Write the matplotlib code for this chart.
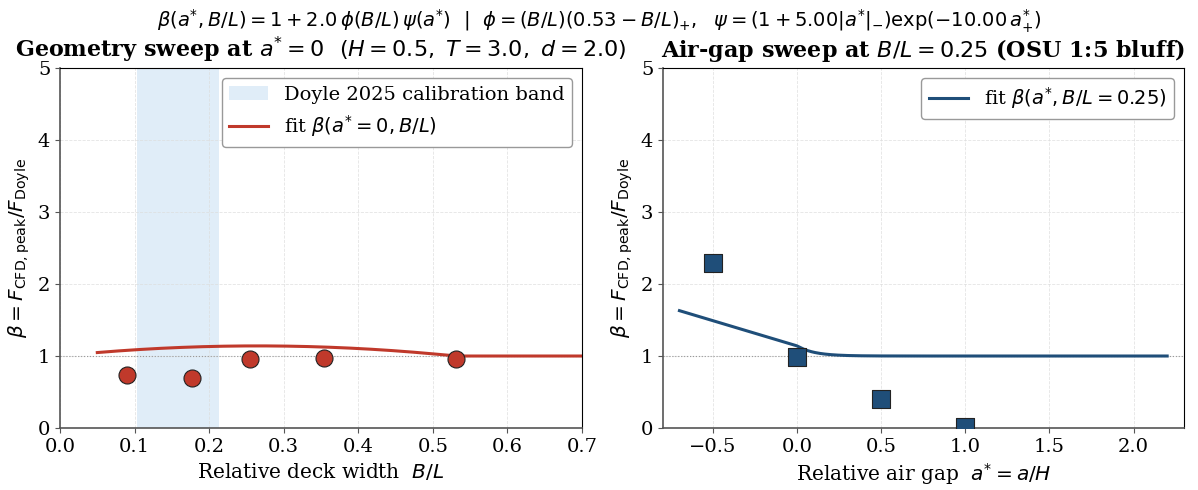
import numpy as np
import matplotlib
matplotlib.use("Agg")
import matplotlib.pyplot as plt

plt.rcParams['font.family'] = ['DejaVu Serif']
plt.rcParams['mathtext.fontset'] = 'dejavusans'

# Fit parameters (stated in the figure title)
fit_amp = 2.0
fit_bl0 = 0.53
fit_k_neg = 5.00
fit_k_pos = 10.00

# Geometry sweep data (a* = 0)
geom_bl = [0.090, 0.177, 0.255, 0.354, 0.531]
geom_beta = [0.74, 0.70, 0.96, 0.97, 0.96]
band_lo, band_hi = 0.103, 0.213

# Air-gap sweep data (B/L = 0.25)
gap_a = [-0.5, 0.0, 0.5, 1.0]
gap_beta = [2.29, 0.99, 0.40, 0.02]
gap_bl = 0.25


def phi(bl):
    return bl * np.clip(fit_bl0 - bl, 0, None)


def psi(a):
    neg = np.clip(-a, 0, None)
    pos = np.clip(a, 0, None)
    return (1 + fit_k_neg * neg) * np.exp(-fit_k_pos * pos)


def beta(a, bl):
    return 1 + fit_amp * phi(bl) * psi(a)


red = '#c0392b'
blue = '#1f4e79'

fig = plt.figure(figsize=(11.98, 4.9), dpi=100)
ax1 = fig.add_axes([0.0501, 0.1265, 0.4357, 0.7347])
ax2 = fig.add_axes([0.5534, 0.1265, 0.4349, 0.7347])

for ax in (ax1, ax2):
    ax.grid(True, color='#dddddd', lw=0.6, ls='--', alpha=0.8)
    ax.set_axisbelow(True)
    ax.axhline(1.0, color='#999999', lw=0.8, ls=':', zorder=1)
    ax.set_ylim(0, 5)
    ax.set_yticks([0, 1, 2, 3, 4, 5])
    ax.tick_params(labelsize=14, color='#555555')
    for s in ('left', 'bottom'):
        ax.spines[s].set_color('#555555')
        ax.spines[s].set_linewidth(1.2)
    ax.set_ylabel(r'$\beta = F_{\mathrm{CFD,peak}}/F_{\mathrm{Doyle}}$', fontsize=14.5)

# Left panel
ax1.axvspan(band_lo, band_hi, color='#d6e8f6', alpha=0.75, lw=0,
            label='Doyle 2025 calibration band', zorder=0)
xb = np.linspace(0.05, 0.7, 300)
ax1.plot(xb, beta(0.0, xb), color=red, lw=2.2, label=r'fit $\beta(a^{*}=0, B/L)$', zorder=2)
ax1.scatter(geom_bl, geom_beta, s=150, color=red, edgecolor='#222222', lw=0.8, zorder=3)
ax1.set_xlim(0.0, 0.7)
ax1.set_xticks(np.arange(0, 0.71, 0.1))
ax1.set_xlabel(r'Relative deck width  $B/L$', fontsize=14.5)
ax1.set_title(r'Geometry sweep at $a^{*}=0$  $(H=0.5,\ T=3.0,\ d=2.0)$',
              fontsize=16, fontweight='bold', pad=8)
ax1.legend(loc='upper right', fontsize=14, framealpha=1, edgecolor='#999999')

# Right panel
xa = np.linspace(-0.7, 2.2, 400)
ax2.plot(xa, beta(xa, gap_bl), color=blue, lw=2.2, label=r'fit $\beta(a^{*}, B/L=0.25)$', zorder=2)
ax2.scatter(gap_a, gap_beta, s=150, marker='s', color=blue, edgecolor='#222222', lw=0.8, zorder=3)
ax2.set_xlim(-0.798, 2.3)
ax2.set_xticks([-0.5, 0.0, 0.5, 1.0, 1.5, 2.0])
ax2.set_xlabel(r'Relative air gap  $a^{*}=a/H$', fontsize=14.5)
ax2.set_title(r'Air-gap sweep at $B/L=0.25$ (OSU 1:5 bluff)',
              fontsize=16, fontweight='bold', pad=8)
ax2.legend(loc='upper right', fontsize=14, framealpha=1, edgecolor='#999999')

fig.suptitle(r'$\beta(a^{*},B/L) = 1 + 2.0\,\phi(B/L)\,\psi(a^{*})\ \ |\ \ \phi=(B/L)(0.53-B/L)_{+},\ \ \psi=(1+5.00|a^{*}|_{-})\exp(-10.00\,a^{*}_{+})$',
             fontsize=14, y=0.985)

fig.savefig('out.png', dpi=100)
